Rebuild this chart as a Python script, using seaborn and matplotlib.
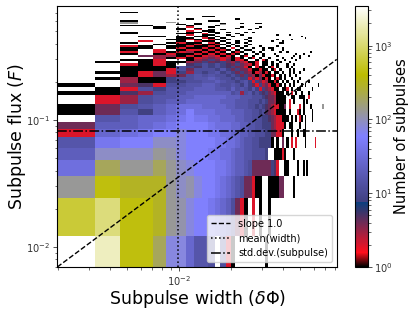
from __future__ import annotations

import matplotlib

matplotlib.use("Agg")

import matplotlib.pyplot as plt
import numpy as np
import pandas as pd
import seaborn as sns
from matplotlib.colors import LogNorm

# counts per level
LEVEL_COUNTS = {
    ".": 0, "k": 1, "r": 2, "c": 3, "e": 4, "p": 5, "b": 8, "d": 12, "f": 15,
    "m": 20, "n": 27, "l": 35, "q": 45, "v": 60, "u": 75, "h": 90, "t": 110,
    "g": 130, "a": 200, "s": 300, "o": 440, "y": 620, "w": 1100, "z": 2000,
    "x": 3450,
}

# one string per flux bin, top row first, one character per width bin
FLUX_ROWS = [
    "............g",
    "", "", "", "", "", "",
    "..k",
    "", "", "",
    ".........kk",
    "",
    ".......k.......k",
    "..k.......kk",
    "..k.......kk",
    "..g..g",
    "..g.....k...k...k...kk",
    "......k.k...g",
    "..kk...k...k",
    "....k..r..k.....k....k",
    "....k.k.k......k....k",
    "......k.r.k.k.....k.",
    ".......r.kk",
    "..k....kk.kk.k...k.k",
    "..k...kk.r.k...k",
    ".......r.kk..k..k..........k....k",
    "...kk.k.kk.k..k.......................k",
    "......kk.rk.k.....k.....................k",
    ".....kkrk.rk.k...k.........k.....k",
    "...r..k.rkk.k..k..k......k...k",
    "..k..krkk.rk.k.k.k..........kk",
    "....k.kkrkkrk.k...k.",
    "..rk.kkrkkrk.k.k.k...k.....k",
    "..kk.krkkrkrk.r.k..k..k.kk...k",
    "..k.r.krrkrkrk.k.kk...k..k...k",
    "..r.rkrckrkrk.krk..k.k......k..k...........k",
    "..k.krkkrkrkrkrk.k..k.k...k........k...k",
    "...ecckrkrcrkrk.kr.k..k....k......k..k....k",
    "....ckrkrcecrckrk.kr.k..k....k...k...k",
    "..kkr..kceberekrrk..k.rk...k..k....k",
    ".k.krkkcebepbecpcrkkr.kk.k..k...k",
    "..rkrk.pbdbdbpebecrkr.kk.k.k...k..k",
    "..kkkkdbpdbdbpbeerk.rkk.kr.k...k.k",
    "..kkkrdedddbfbebeerkkrkk.kr.k...k.k....k",
    ".kkrerbcdbdfbdbebeckrckrk.kk.k..k.k..k",
    "..krecedfdfddbdbebeckerkkrk.k.k.k..k",
    ".kckkbddffmfddbdbbrerekrk.krk.k..k...k",
    "..ckkbbddffmfddbdfbrberckkrk.k.k..k.k.....k",
    "k.eprddffmmfddfdbfberbcerkkrk.k.k.k...k.k.......k..",
    ".krdbfffmmmffdmdfdbfbrbecrkk.kkr.k..kk......k",
    "kkpcdffmmmmmmmdfcdfbdbpbecrkkk.k.r.k..k...k",
    ".rcdffmmnnnnnmmmfffdddbpeeckkkk..kk..kkk..r",
    ".rcdfmmnnnnnmmmfffdddbdbeeckkkk.r.k....k.k",
    "kedfmnlllnnnnmmfffddbdbpecrrkke.r....r.k...k.......g",
    "kefbmnlvlllnnnmmmffddbdpecrkkkk.k...rk.k....k",
    ".fmnnlqvqqllnnnmmffdddbbpecrrkkk.k.k.rk.k...k",
    "emmnlqvvvvqlllnnmmffddbbbecrrrk.kk...k..k",
    "rnlqvvuvvvqqllnnmmffdddbbeerrk...k..k..kk",
    "fqvvhhuvvvvqqllnmffddbbbbk.k.e.k.r.r....k.....r",
    "mhhhgtuvvvqqllnmmffddddb..kkkrk...k",
    "laggaghuvvvqqlnmmfdeeeeeebpr..kk....k..k.k",
    "gosssghtuvvqlnmfdeerkk..kkkkee....k",
    "ywoosgtuvvqlnmderk.r.k..k",
    "xzooauunffd.drk........k",
]

XBIN_START = 0.00198
XBIN_WIDTH = 0.00128
XBIN_COUNT = 62
YBIN_START = 0.0001
YBIN_WIDTH = 0.01212

XLIM = (0.00198, 0.0814)
YLIM = (0.00696, 0.79)

SLOPE_X = [0.00198, 0.0814]
SLOPE_Y = [0.00696, 0.30]
MEAN_WIDTH = 0.0098
STD_SUBPULSE = 0.082

VMIN = 1
VMAX = 3450


def load_counts() -> tuple[pd.DataFrame, np.ndarray, np.ndarray]:
    n_rows = len(FLUX_ROWS)
    x_edges = XBIN_START + XBIN_WIDTH * np.arange(XBIN_COUNT + 1)
    y_edges = YBIN_START + YBIN_WIDTH * np.arange(n_rows + 1)
    x_mid = (x_edges[:-1] + x_edges[1:]) / 2
    y_mid = (y_edges[:-1] + y_edges[1:]) / 2

    records = []
    for i, row in enumerate(FLUX_ROWS):
        row_idx = n_rows - 1 - i
        for col_idx, key in enumerate(row[:XBIN_COUNT]):
            count = LEVEL_COUNTS[key]
            if count > 0:
                records.append((x_mid[col_idx], y_mid[row_idx], count))
    df = pd.DataFrame(records, columns=["width", "flux", "count"])
    return df, x_edges, y_edges


def main() -> None:
    df, x_edges, y_edges = load_counts()

    fig = plt.figure(figsize=(4.16, 3.12), dpi=100)
    ax = fig.add_axes([57.3 / 416, 1 - 267 / 312, 279.4 / 416, 261 / 312])
    cax = fig.add_axes([354.5 / 416, 1 - 267 / 312, 13 / 416, 261 / 312])

    sns.histplot(
        data=df,
        x="width",
        y="flux",
        weights="count",
        bins=(np.log10(x_edges), np.log10(y_edges)),
        log_scale=True,
        cmap="gist_stern",
        ax=ax,
    )
    mesh = ax.collections[0]
    mesh.set_norm(LogNorm(vmin=VMIN, vmax=VMAX))

    ax.plot(SLOPE_X, SLOPE_Y, color="k", ls="--", lw=1.0, label="slope 1.0")
    ax.axvline(MEAN_WIDTH, color="k", ls=":", lw=1.1, label="mean(width)")
    ax.axhline(STD_SUBPULSE, color="k", ls="-.", lw=1.1, label="std.dev.(subpulse)")

    ax.set_xlim(*XLIM)
    ax.set_ylim(*YLIM)
    ax.set_xlabel(r"Subpulse width ($\delta\Phi$)", fontsize=12.5, labelpad=0.3)
    ax.set_ylabel(r"Subpulse flux ($F$)", fontsize=12.5, labelpad=-1.2)
    ax.tick_params(which="major", labelsize=7.1, length=3, width=0.6, pad=2, colors="#333333")
    ax.tick_params(which="minor", length=1.8, width=0.5, colors="#333333")
    ax.legend(loc="lower right", fontsize=7, framealpha=0.8, borderaxespad=0.5)

    cbar = fig.colorbar(mesh, cax=cax)
    cbar.set_label("Number of subpulses", fontsize=10.5, labelpad=0.5)
    cbar.ax.tick_params(which="major", labelsize=7.1, length=3, width=0.6, pad=2, colors="#333333")
    cbar.ax.tick_params(which="minor", length=1.8, width=0.5, colors="#333333")

    fig.savefig("out.png", dpi=100)
    plt.close(fig)


if __name__ == "__main__":
    main()
